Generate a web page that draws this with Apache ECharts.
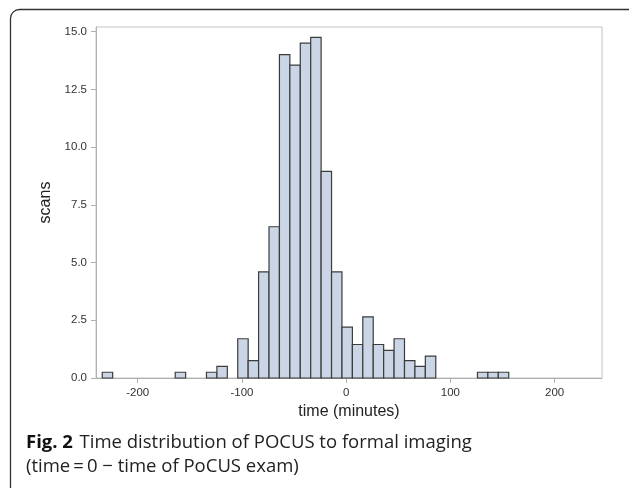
<!DOCTYPE html>
<html>
<head>
<meta charset="utf-8">
<script src="https://cdn.jsdelivr.net/npm/echarts@6/dist/echarts.min.js"></script>
<style>
html,body{margin:0;padding:0;background:#fff;}
#c{width:629px;height:488px;}
</style>
</head>
<body>
<div id="c"></div>
<script>
// Histogram bins (start of each 10-minute bin) and heights
const binStart = [-234, -164, -134, -124, -104, -94, -84, -74, -64, -54, -44, -34, -24, -14, -4, 6, 16, 26, 36, 46, 56, 66, 76, 126, 136, 146];
const binValue = [0.25, 0.25, 0.25, 0.5, 1.7, 0.75, 4.6, 6.55, 14.0, 13.55, 14.5, 14.75, 8.95, 4.6, 2.2, 1.45, 2.65, 1.45, 1.2, 1.7, 0.75, 0.5, 0.95, 0.25, 0.25, 0.25];
const binWidth = 10;
const xTicks = [-200, -100, 0, 100, 200];
const yTicks = [0, 2.5, 5, 7.5, 10, 12.5, 15];
const xTitle = 'time (minutes)';
const yTitle = 'scans';
const captionBold = 'Fig. 2';
const captionLine1 = 'Time distribution of POCUS to formal imaging';
const captionLine2 = '(time\u2009=\u20090 \u2212 time of PoCUS exam)';

const data = binStart.map((s, i) => [s, s + binWidth, binValue[i]]);

const chart = echarts.init(document.getElementById('c'), null, {renderer: 'canvas'});
const axisFont = '"Liberation Sans", Arial, sans-serif';
chart.setOption({
  animation: false,
  backgroundColor: '#fff',
  grid: {left: 96, right: 27, top: 27, bottom: 110, show: true, borderColor: '#c4c4c4', borderWidth: 1},
  xAxis: {
    type: 'value', min: -240, max: 245.5,
    name: xTitle, nameLocation: 'middle', nameGap: 26,
    nameTextStyle: {fontFamily: axisFont, fontSize: 16, color: '#222'},
    axisLine: {show: true, onZero: false, lineStyle: {color: '#b0b0b0'}},
    axisTick: {show: true, length: 5, lineStyle: {color: '#b0b0b0'}, customValues: xTicks},
    axisLabel: {fontFamily: axisFont, fontSize: 11.5, color: '#333', margin: 9, customValues: xTicks},
    splitLine: {show: false}
  },
  yAxis: {
    type: 'value', min: 0, max: 15.2,
    name: yTitle, nameLocation: 'middle', nameGap: 38,
    nameTextStyle: {fontFamily: axisFont, fontSize: 16, color: '#222'},
    axisLine: {show: true, onZero: false, lineStyle: {color: '#b0b0b0'}},
    axisTick: {show: true, length: 5, lineStyle: {color: '#b0b0b0'}, customValues: yTicks},
    axisLabel: {fontFamily: axisFont, fontSize: 11.5, color: '#333', margin: 9, customValues: yTicks,
      formatter: v => v.toFixed(1)},
    splitLine: {show: false}
  },
  series: [{
    type: 'custom',
    data: data,
    encode: {x: [0, 1], y: 2},
    renderItem: function (params, api) {
      const p0 = api.coord([api.value(0), api.value(2)]);
      const p1 = api.coord([api.value(1), 0]);
      return {
        type: 'rect',
        shape: {x: p0[0], y: p0[1], width: p1[0] - p0[0], height: p1[1] - p0[1]},
        style: {fill: '#cad5e5', stroke: '#3c3c3c', lineWidth: 1.2}
      };
    }
  }],
  graphic: [
    {type: 'rect', shape: {x: 10.5, y: 9.5, width: 700, height: 600, r: 9},
      style: {fill: null, stroke: '#333', lineWidth: 1.3}, silent: true},
    {type: 'text', left: 26, top: 433,
      style: {
        text: '{b|' + captionBold + '}  {n|' + captionLine1 + '}',
        rich: {
          b: {fontFamily: '"Open Sans", sans-serif', fontWeight: 'bold', fontSize: 18.5, fill: '#111'},
          n: {fontFamily: '"Open Sans", sans-serif', fontSize: 18.5, fill: '#222'}
        }
      }},
    {type: 'text', left: 26, top: 457,
      style: {text: captionLine2, fontFamily: '"Open Sans", sans-serif', fontSize: 18.5, fill: '#222'}}
  ]
});
</script>
</body>
</html>
